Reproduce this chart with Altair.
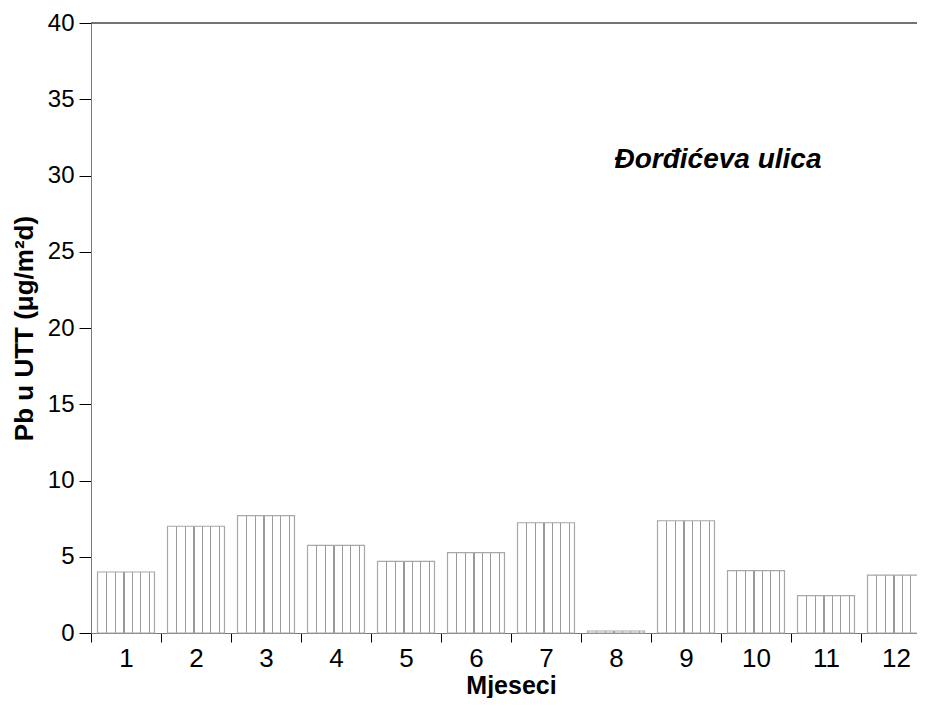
import altair as alt
import pandas as pd

months = [1, 2, 3, 4, 5, 6, 7, 8, 9, 10, 11, 12]
pb_values = [4.0, 7.0, 7.7, 5.75, 4.7, 5.27, 7.23, 0.13, 7.36, 4.09, 2.45, 3.8]
y_ticks = [0, 5, 10, 15, 20, 25, 30, 35, 40]
annotation = "Đorđićeva ulica"

df = pd.DataFrame({"month": months, "pb": pb_values})

FONT = "Liberation Sans"
HATCH = "#9a9a9a"
line_pos = [0.165, 0.318, 0.465, 0.612, 0.759, 0.906]
hw = 0.009
stops = [alt.GradientStop(color="white", offset=0)]
for p in line_pos:
    stops += [
        alt.GradientStop(color="white", offset=p - hw),
        alt.GradientStop(color=HATCH, offset=p - hw),
        alt.GradientStop(color=HATCH, offset=p + hw),
        alt.GradientStop(color="white", offset=p + hw),
    ]
stops.append(alt.GradientStop(color="white", offset=1))
hatch = alt.Gradient(gradient="linear", stops=stops, x1=0, x2=1, y1=0, y2=0)

yscale = alt.Scale(domain=[0, 40], nice=False, zero=True)

bars = alt.Chart(df).mark_bar(
    width=alt.RelativeBandSize(0.814),
    fill=hatch,
    stroke="#a8a8a8",
    strokeWidth=1.2,
).encode(
    x=alt.X(
        "month:O",
        scale=alt.Scale(paddingInner=0, paddingOuter=0),
        axis=alt.Axis(
            title="Mjeseci",
            labelAngle=0,
            tickBand="extent",
            tickSize=9,
            tickColor="#000000",
            domainColor="#7a7a7a",
            labelFontSize=26,
            labelFont=FONT,
            labelColor="#000000",
            labelPadding=3,
            titleFontSize=25,
            titleFont=FONT,
            titleFontWeight="bold",
            titleColor="#000000",
            titleBaseline="alphabetic",
            titleY=60,
            grid=False,
        ),
    ),
    y=alt.Y(
        "pb:Q",
        scale=yscale,
        axis=alt.Axis(
            title="Pb u UTT (μg/m²d)",
            values=y_ticks,
            tickSize=12,
            tickColor="#000000",
            domainColor="#7a7a7a",
            labelFontSize=24,
            labelFont=FONT,
            labelColor="#000000",
            labelPadding=5,
            titleFontSize=26,
            titleFont=FONT,
            titleFontWeight="bold",
            titleColor="#000000",
            titlePadding=10,
            grid=False,
        ),
    ),
)

top_line = alt.Chart(pd.DataFrame({"v": [40]})).mark_rule(
    color="#444444", strokeWidth=1.5
).encode(y=alt.Y("v:Q", scale=yscale))

label = alt.Chart(pd.DataFrame({"t": [annotation], "y": [31]})).mark_text(
    font=FONT, fontSize=28, fontWeight="bold", fontStyle="italic",
    color="#000000", align="center", baseline="middle",
).encode(
    text="t:N",
    y=alt.Y("y:Q", scale=yscale),
    x=alt.value(627),
)

chart = alt.layer(bars, top_line, label).properties(
    width=840,
    height=610,
    autosize=alt.AutoSizeParams(type="none"),
    padding={"left": 83, "top": 15, "right": -14, "bottom": 65},
).configure_view(stroke=None)

chart.save("out.html", embed_options={"renderer": "svg", "actions": False})
